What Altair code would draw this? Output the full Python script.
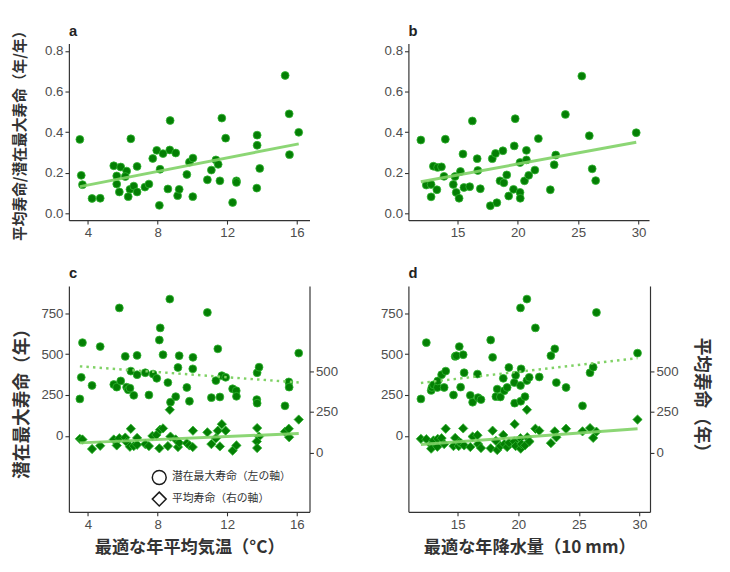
import altair as alt
import pandas as pd

FONT = "Liberation Sans"
CJK = "Noto Sans CJK JP"
FILL = "#047F04"
EDGE = "#32B532"
FIT = "#80D266"

MAX_LABEL = "潜在最大寿命（左の軸）"
MEAN_LABEL = "平均寿命（右の軸）"

# a: optimal mean annual temperature vs mean / potential max lifespan
a_temp = [3.53, 3.61, 3.68, 4.23, 4.70, 5.48, 5.88, 5.65, 6.22, 6.14, 5.65, 5.80, 6.41,
          6.63, 6.31, 6.82, 6.46, 6.82, 7.27, 7.50, 7.72, 7.95, 8.14, 8.31, 8.70, 8.72,
          9.04, 8.10, 8.59, 9.15, 9.24, 9.68, 9.83, 10.03, 10.02, 10.86, 11.09, 11.35,
          11.48, 11.58, 11.69, 11.91, 12.31, 12.53, 12.53, 13.72, 13.72, 13.87, 13.70,
          15.33, 15.56, 15.58, 16.11]
a_ratio = [0.364, 0.187, 0.141, 0.073, 0.074, 0.234, 0.228, 0.184, 0.208, 0.181, 0.144,
           0.105, 0.118, 0.134, 0.082, 0.105, 0.367, 0.231, 0.129, 0.144, 0.270, 0.310,
           0.217, 0.294, 0.312, 0.457, 0.297, 0.039, 0.120, 0.087, 0.118, 0.191, 0.252,
           0.272, 0.082, 0.165, 0.213, 0.263, 0.241, 0.160, 0.469, 0.370, 0.053, 0.160,
           0.152, 0.385, 0.335, 0.221, 0.124, 0.679, 0.490, 0.289, 0.399]

# b: optimal annual precipitation (10 mm) vs the same ratio
b_prec = [11.96, 12.41, 12.81, 12.81, 13.29, 13.00, 13.35, 13.67, 13.88, 13.99, 14.65,
          14.79, 14.89, 15.13, 15.24, 15.45, 15.53, 16.01, 16.23, 16.63, 16.68, 16.89,
          17.72, 17.88, 18.15, 18.26, 18.52, 18.76, 18.84, 19.08, 19.24, 19.64, 19.70,
          19.78, 20.18, 20.18, 20.20, 20.71, 20.71, 20.55, 20.90, 21.41, 21.70, 22.69,
          23.01, 23.14, 23.94, 25.30, 25.92, 26.16, 26.45, 29.81]
b_ratio = [0.361, 0.139, 0.142, 0.081, 0.116, 0.232, 0.226, 0.229, 0.182, 0.365, 0.142,
           0.181, 0.103, 0.074, 0.206, 0.292, 0.127, 0.131, 0.455, 0.269, 0.211, 0.121,
           0.037, 0.269, 0.295, 0.052, 0.160, 0.308, 0.150, 0.189, 0.085, 0.118, 0.332,
           0.466, 0.250, 0.103, 0.074, 0.263, 0.310, 0.160, 0.187, 0.213, 0.368, 0.116,
           0.239, 0.287, 0.487, 0.676, 0.382, 0.219, 0.161, 0.397]

# c: temperature vs potential max lifespan (left axis) and mean lifespan (right axis)
c_temp_max = [3.53, 3.61, 3.68, 4.23, 4.70, 5.48, 5.65, 5.88, 5.80, 6.14, 6.22, 6.31,
              6.41, 6.46, 6.63, 6.82, 6.82, 7.29, 7.50, 7.74, 7.95, 8.10, 8.15, 8.31,
              8.59, 8.70, 8.74, 9.04, 9.17, 9.24, 9.68, 9.83, 10.02, 10.03, 10.86, 11.09,
              11.35, 11.46, 11.58, 11.69, 11.91, 12.31, 12.52, 12.53, 13.72, 13.83, 13.70,
              13.72, 15.32, 15.54, 15.56, 16.11]
c_max = [226, 358, 570, 308, 546, 314, 298, 336, 782, 486, 298, 282, 292, 396, 248, 492,
         374, 386, 250, 378, 352, 586, 660, 496, 326, 836, 206, 240, 418, 490, 296, 212,
         410, 480, 754, 234, 338, 532, 238, 368, 358, 288, 276, 242, 386, 420, 222, 200,
         184, 330, 298, 506]
c_temp_mean = [3.53, 3.68, 4.23, 4.70, 5.48, 5.65, 5.80, 6.14, 6.22, 6.41, 6.46, 6.63,
               6.82, 6.82, 7.29, 7.50, 7.70, 7.93, 8.10, 8.14, 8.31, 8.59, 8.70, 8.74,
               9.04, 9.17, 9.24, 9.68, 9.83, 10.02, 10.03, 10.86, 11.09, 11.35, 11.46,
               11.58, 11.69, 11.91, 12.31, 12.53, 13.72, 13.83, 13.70, 13.72, 15.32,
               15.54, 15.56, 16.11]
c_mean = [86, 82, 24, 44, 82, 46, 90, 94, 66, 38, 148, 42, 92, 50, 54, 42, 104, 110, 28,
          142, 150, 42, 264, 100, 82, 36, 62, 60, 46, 36, 136, 126, 54, 90, 136, 40, 176,
          136, 14, 46, 152, 100, 70, 30, 130, 148, 96, 204]

# d: precipitation vs potential max lifespan (left axis) and mean lifespan (right axis)
d_prec_max = [11.96, 12.41, 12.81, 12.87, 13.00, 13.32, 13.35, 13.67, 13.88, 14.01,
              14.65, 14.79, 14.89, 15.13, 15.24, 15.45, 15.53, 16.04, 16.23, 16.63,
              16.68, 16.92, 17.72, 17.88, 18.15, 18.26, 18.52, 18.76, 18.84, 19.08,
              19.22, 19.67, 19.70, 19.78, 20.18, 20.18, 20.23, 20.20, 20.55, 20.71,
              20.71, 20.90, 21.41, 21.73, 22.69, 23.01, 23.14, 23.94, 25.30, 25.92,
              26.18, 26.45, 29.84]
d_max = [226, 570, 278, 296, 312, 296, 336, 374, 296, 396, 250, 486, 490, 546, 298, 496,
         386, 248, 206, 378, 234, 222, 586, 480, 240, 286, 238, 352, 276, 296, 418, 326,
         200, 370, 782, 308, 410, 212, 240, 836, 338, 358, 660, 360, 490, 532, 326, 296,
         184, 386, 420, 754, 506]
d_prec_mean = [11.96, 12.41, 12.81, 12.81, 13.00, 13.32, 13.35, 13.67, 13.88, 14.01,
               14.65, 14.79, 15.08, 15.13, 15.24, 15.45, 15.53, 16.04, 16.23, 16.63,
               16.68, 16.92, 17.72, 17.88, 18.15, 18.26, 18.52, 18.76, 18.84, 19.08,
               19.24, 19.67, 19.70, 19.78, 20.18, 20.20, 20.26, 20.55, 20.71, 20.74,
               20.92, 21.41, 21.73, 22.69, 23.01, 23.14, 23.94, 25.30, 25.92, 26.18,
               26.45, 29.84]
d_mean = [86, 84, 50, 26, 76, 38, 86, 90, 54, 148, 42, 92, 42, 66, 62, 150, 46, 36, 100,
          108, 54, 30, 28, 136, 74, 18, 42, 110, 54, 36, 62, 70, 176, 42, 90, 26, 54, 46,
          264, 96, 70, 148, 136, 60, 132, 96, 148, 132, 152, 92, 130, 204]

TEMP_DOM = [2.9, 16.73]
PREC_DOM = [10.93, 30.87]


def xenc(dom, ticks, title):
    return alt.X("x:Q", scale=alt.Scale(domain=dom, nice=False, zero=False),
                 axis=alt.Axis(values=ticks, title=title, titleFontSize=17.5,
                               titlePadding=8))


def panel_title(letter, offset):
    # the title sits above the axis extents, so each panel needs its own offset
    return alt.TitleParams(letter, anchor="start", frame="group", font=FONT, fontSize=15,
                           fontWeight="bold", color="#222222", offset=offset)


def ratio_panel(xs, ys, dom, ticks, letter, ytitle, offset):
    base = alt.Chart(pd.DataFrame({"x": xs, "y": ys}))
    x = xenc(dom, ticks, None)
    y = alt.Y("y:Q", scale=alt.Scale(domain=[-0.034, 0.837], nice=False, zero=False),
              axis=alt.Axis(values=[0, 0.2, 0.4, 0.6, 0.8], format=".1f", title=ytitle,
                            titleFontSize=15, titlePadding=17))
    pts = base.mark_point(filled=True, size=64, fill=FILL, stroke=EDGE, strokeWidth=0.8,
                          opacity=1).encode(x=x, y=y)
    fit = base.transform_regression("x", "y").mark_line(
        color=FIT, strokeWidth=3, opacity=0.9).encode(x=x, y=y)
    return alt.layer(pts, fit).properties(width=245, height=180,
                                          title=panel_title(letter, offset))


def life_panel(x_max, y_max, x_mean, y_mean, dom, ticks, letter, xtitle, ltitle, rtitle,
               width, with_legend):
    dmax = alt.Chart(pd.DataFrame({"x": x_max, "y": y_max, "kind": MAX_LABEL}))
    dmean = alt.Chart(pd.DataFrame({"x": x_mean, "y": y_mean, "kind": MEAN_LABEL}))
    x = xenc(dom, ticks, xtitle)
    yl = alt.Y("y:Q", scale=alt.Scale(domain=[-464, 916], nice=False, zero=False),
               axis=alt.Axis(orient="left", values=[0, 250, 500, 750], title=ltitle,
                             titleFontSize=18, titlePadding=10))
    yr = alt.Y("y:Q", scale=alt.Scale(domain=[-360, 1020], nice=False, zero=False),
               axis=alt.Axis(orient="right", values=[0, 250, 500], title=rtitle,
                             titleFontSize=18, titlePadding=14))
    pt = dict(filled=True, fill=FILL, stroke=EDGE, strokeWidth=0.8, opacity=1)
    circles = dmax.mark_point(size=64, shape="circle", **pt).encode(x=x, y=yl)
    diamonds = dmean.mark_point(size=90, shape="diamond", **pt).encode(x=x, y=yr)
    dotted = dmax.transform_regression("x", "y").mark_line(
        color=FIT, strokeWidth=2.5, strokeDash=[2.5, 4.2], strokeCap="butt").encode(x=x, y=yl)
    solid = dmean.transform_regression("x", "y").mark_line(
        color=FIT, strokeWidth=3, opacity=0.9).encode(x=x, y=yr)
    left = [circles, dotted]
    right = [diamonds, solid]
    if with_legend:
        # invisible copies that only carry the outline-symbol legend
        shape = alt.Shape(
            "kind:N",
            scale=alt.Scale(domain=[MAX_LABEL, MEAN_LABEL], range=["circle", "diamond"]),
            legend=alt.Legend(
                title=None, orient="none", legendX=84, legendY=187, padding=0,
                rowPadding=0, labelOffset=5, labelFont=CJK, labelFontSize=11,
                labelColor="#333333", symbolSize=200, symbolStrokeWidth=1.5,
                symbolOpacity=1))
        ghost = dict(filled=False, stroke="#1A1A1A", strokeWidth=1.5, opacity=0)
        left.append(dmax.mark_point(**ghost).encode(x=x, y=yl, shape=shape))
        right.append(dmean.mark_point(**ghost).encode(x=x, y=yr, shape=shape))
    return alt.layer(alt.layer(*left), alt.layer(*right)).resolve_scale(
        y="independent").properties(width=width, height=230, title=panel_title(letter, 5))


pa = ratio_panel(a_temp, a_ratio, TEMP_DOM, [4, 8, 12, 16], "a",
                 "平均寿命/潜在最大寿命（年/年）", -16)
pb = ratio_panel(b_prec, b_ratio, PREC_DOM, [15, 20, 25, 30], "b", None, 5)
pc = life_panel(c_temp_max, c_max, c_temp_mean, c_mean, TEMP_DOM, [4, 8, 12, 16], "c",
                "最適な年平均気温（°C）", "潜在最大寿命（年）", None, 245, True)
pd_ = life_panel(d_prec_max, d_max, d_prec_mean, d_mean, PREC_DOM, [15, 20, 25, 30], "d",
                 "最適な年降水量（10 mm）", None, "平均寿命（年）", 246, False)

chart = alt.concat(
    pa, pb, pc, pd_, columns=2, bounds="flush",
    spacing={"row": 67, "column": 100.7}
).resolve_scale(
    shape="independent"
).properties(
    padding={"left": 5, "top": 10, "right": 12, "bottom": 2}
).configure_axis(
    domainColor="#333333", domainWidth=1.2, tickColor="#333333", tickWidth=1.1, tickSize=4,
    labelColor="#4D4D4D", labelFont=FONT, labelFontSize=13.5, labelPadding=2, grid=False,
    titleFont=CJK, titleFontWeight="bold", titleColor="#333333"
).configure_view(stroke=None)

chart.save("out.html", embed_options={"renderer": "svg", "actions": False})
